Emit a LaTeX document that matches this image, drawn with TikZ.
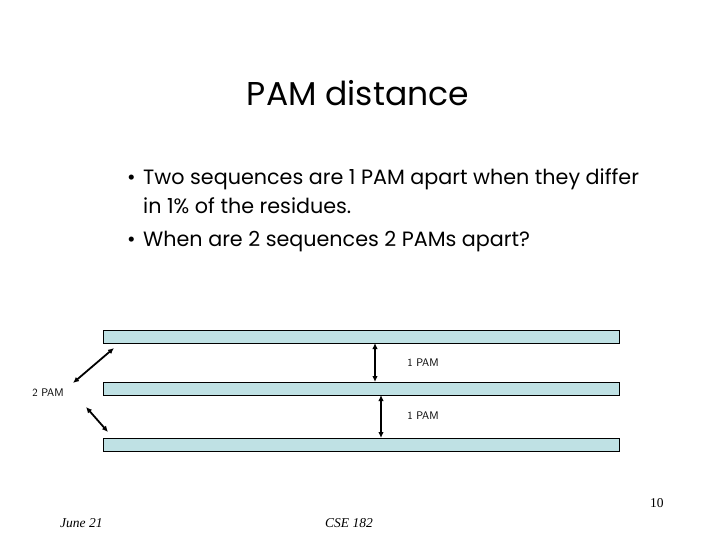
\documentclass[tikz,border=0pt]{standalone}
\usepackage{fontspec}
\setmainfont{Poppins}
\newfontfamily\footfont{Liberation Serif}
\usetikzlibrary{arrows.meta}
\definecolor{barcol}{HTML}{BFE1E4}
\tikzset{
  seqbar/.style={draw=black, fill=barcol, line width=0.8pt, minimum width=516pt, minimum height=13pt, inner sep=0pt, anchor=north west},
  pamarrow/.style={{Latex[length=6pt,width=5.5pt]}-{Latex[length=6pt,width=5.5pt]}, line width=1.8pt},
  smalllab/.style={font=\fontsize{11}{12}\selectfont\sffamily, inner sep=0pt},
  bullettext/.style={font=\fontsize{20.7}{24}\selectfont, anchor=base west, inner sep=0pt},
  foot/.style={font=\fontsize{13.5}{15}\selectfont\footfont\itshape, anchor=base west, inner sep=0pt}
}
\begin{document}
\begin{tikzpicture}[x=1pt,y=-1pt]
\useasboundingbox (0,0) rectangle (720,540);
\node[font=\fontsize{33}{38}\selectfont, anchor=base, inner sep=0pt] (title) at (358,106) {PAM distance};
\node[bullettext] (b1) at (127,185) {•};
\node[bullettext] (t1) at (143,185) {Two sequences are 1 PAM apart when they differ};
\node[bullettext] (t2) at (143,214) {in 1\% of the residues.};
\node[bullettext] (b2) at (127,246) {•};
\node[bullettext] (t3) at (143,246) {When are 2 sequences 2 PAMs apart?};
\node[seqbar] (s1) at (103,330) {};
\node[seqbar] (s2) at (103,382) {};
\node[seqbar] (s3) at (103,438) {};
\coordinate (a1) at (375,343);
\coordinate (a2) at (375,382);
\coordinate (a3) at (381,395);
\coordinate (a4) at (381,438);
\draw[pamarrow] (a1) -- (a2);
\draw[pamarrow] (a3) -- (a4);
\node[smalllab] (l1) at (423,363) {1 PAM};
\node[smalllab] (l2) at (423,416) {1 PAM};
\node[smalllab] (l3) at (48,393) {2 PAM};
\coordinate (d1) at (114,348);
\coordinate (d2) at (73,383);
\coordinate (d3) at (86,407);
\coordinate (d4) at (108,432);
\draw[pamarrow] (d1) -- (d2);
\draw[pamarrow] (d3) -- (d4);
\node[foot] (f1) at (60,527) {June 21};
\node[foot] (f2) at (325,527) {CSE 182};
\node[font=\fontsize{13.5}{15}\selectfont\footfont, anchor=base west, inner sep=0pt] (f3) at (650,507) {10};
\end{tikzpicture}
\end{document}
